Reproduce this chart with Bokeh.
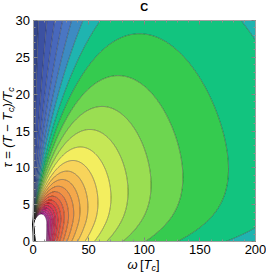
import numpy as np
from bokeh.plotting import figure
from bokeh.models import Label, LinearAxis, SingleIntervalTicker
from bokeh.embed import file_html
from bokeh.resources import INLINE

# ---- sampling of the two axes (omega in units of T_c, reduced temperature tau) ----
omega_lo = np.linspace(0.0, 20.0, 700, endpoint=False)
omega_hi = np.linspace(20.0, 200.0, 600)
tau_lo = np.linspace(0.0, 10.0, 600, endpoint=False)
tau_hi = np.linspace(10.0, 30.0, 300)

# ---- parameters of the response surface ----
tau_soft = 2.3       # soft-mode point
omega0_sq = 11.9     # Omega^2 at tau = 0
width_top = 63.0     # width at tau = 30
width_power = 0.9
damping = 3.36
rise_power = 1.3
amp_gain = 0.20
amp_scale = 4.0
amp_droop = 0.055

# ---- contour levels and band colours ----
levels = [0.0052, 0.0170, 0.0288, 0.0406, 0.0524, 0.0642, 0.0760, 0.0878,
          0.0996, 0.1114, 0.1232, 0.1350, 0.1468, 0.1586, 0.1704, 0.1822,
          0.1940, 0.2058, 0.2176, 0.2294, 0.2412, 0.2530, 0.2648, 0.2766,
          0.2884, 0.3002]
band_colors = ["#34468a", "#3c51a2", "#425bb1", "#4868bc", "#4a76c3", "#3d8bc2",
               "#1fb4b0", "#12c47f", "#35cb4f", "#6dd650", "#9ade52", "#c5e756",
               "#f3ee5f", "#f8d45b", "#f6bd52", "#f4a84b", "#f09346", "#ec7c43",
               "#e86541", "#e34f42", "#de3c4c", "#d8345c", "#d23072", "#cc2e86",
               "#c22f96", "#b533a0"]

x_lim = [0, 200]
y_lim = [0, 30]

omega = np.concatenate([omega_lo, omega_hi])
tau = np.concatenate([tau_lo, tau_hi])
W, T = np.meshgrid(omega, tau)
rel = np.clip((T - tau_soft) / (y_lim[1] - tau_soft), 0.0, None)
K = np.where(T >= tau_soft, (width_top * rel ** width_power) ** 2,
             -omega0_sq * (tau_soft - T) / tau_soft)
amp = (1.0 + amp_gain * (1.0 - np.exp(-T / amp_scale))
       - amp_droop * (T / y_lim[1]) ** 2)
den = ((W ** 2 + K) ** 2 + (W * damping) ** 2) ** ((rise_power + 0.5) / 4.0)
Z = amp * W ** rise_power / (den + 1e-12)

# ---- figure: frame fills the canvas, axes sit at fixed data locations ----
CW, CH = 266, 273
fx0, fx1 = 32.5, 255.0      # pixel extent of the data box
fy0, fy1 = 20.0, 241.0
sx = (fx1 - fx0) / (x_lim[1] - x_lim[0])
sy = (fy1 - fy0) / (y_lim[1] - y_lim[0])
xr = (x_lim[0] - fx0 / sx, x_lim[1] + (CW - fx1) / sx)
yr = (y_lim[0] - (CH - fy1) / sy, y_lim[1] + fy0 / sy)

p = figure(width=CW, height=CH, x_range=xr, y_range=yr,
           output_backend="svg", toolbar_location=None,
           min_border=0, x_axis_location=None, y_axis_location=None)
p.grid.visible = False
p.outline_line_color = None
p.background_fill_color = "white"
p.border_fill_color = "white"

p.contour(x=omega, y=tau, z=Z, levels=[-1.0] + levels, fill_color=band_colors,
          line_color="#303030", line_alpha=0.8, line_width=0.6)

font = "Liberation Sans"

def make_axis(interval, loc, bounds, labels=True):
    ax = LinearAxis(ticker=SingleIntervalTicker(interval=interval, num_minor_ticks=5),
                    fixed_location=loc, bounds=bounds)
    ax.axis_line_color = "#a0a0a0"
    ax.axis_line_width = 1
    ax.major_tick_line_color = "#808080"
    ax.minor_tick_line_color = "#909090"
    ax.major_tick_in = 4
    ax.major_tick_out = 0
    ax.minor_tick_in = 2
    ax.minor_tick_out = 0
    ax.major_label_text_font = font
    ax.major_label_text_font_size = "13px"
    ax.major_label_text_color = "black" if labels else None
    return ax

xb = make_axis(50, y_lim[0], tuple(x_lim))
xb.major_label_standoff = 3
yl = make_axis(5, x_lim[0], tuple(y_lim))
yl.major_label_standoff = 3
xt = make_axis(50, y_lim[1], tuple(x_lim), labels=False)
yrr = make_axis(5, x_lim[1], tuple(y_lim), labels=False)
p.add_layout(xb, "below")
p.add_layout(yl, "left")
p.add_layout(xt, "above")
p.add_layout(yrr, "right")

def lab(x, y, text, size, style="italic", angle=0.0, align="left"):
    # screen units: pixels from the lower-left corner of the canvas
    p.add_layout(Label(x=x, y=y, x_units="screen", y_units="screen", text=text,
                       text_font=font, text_font_size=size, text_font_style=style,
                       angle=angle, text_align=align, text_baseline="middle",
                       text_color="black"))

# title
lab((fx0 + fx1) / 2, CH - 6.5, "C", "11px", style="bold", align="center")

# x axis label:  ω [T_c]
xb0, yc = 127.0, CH - 264.0
lab(xb0, yc, "ω", "13px")
lab(xb0 + 12.5, yc, "[", "13px", style="normal")
lab(xb0 + 16.1, yc, "T", "13px")
lab(xb0 + 24.0, yc - 3.5, "c", "9px")
lab(xb0 + 28.5, yc, "]", "13px", style="normal")

# y axis label:  τ = (T − T_c)/T_c  (rotated, reading upwards)
ang = np.pi / 2
ybase, xc = CH - 167.0, 7.0
lab(xc, ybase, "τ = (T − T", "13px", angle=ang)
lab(xc + 3.5, ybase + 55.4, "c", "9px", angle=ang)
lab(xc, ybase + 59.9, ")/T", "13px", angle=ang)
lab(xc + 3.5, ybase + 75.7, "c", "9px", angle=ang)

open("out.html", "w").write(file_html(p, INLINE))
